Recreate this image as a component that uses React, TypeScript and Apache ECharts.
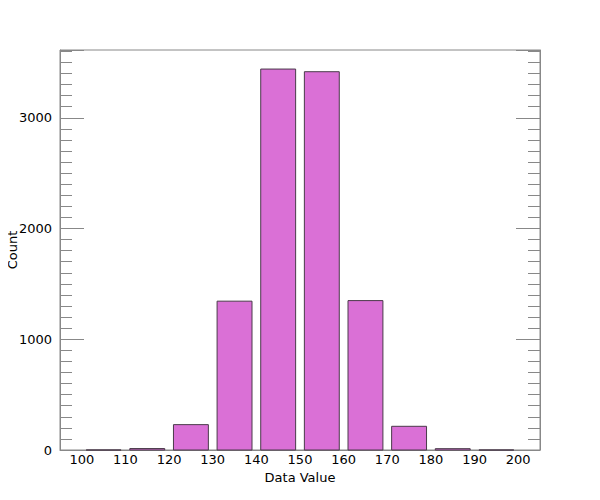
import React, { useEffect, useRef } from "react";
import * as echarts from "echarts";

const binStarts = [100, 110, 120, 130, 140, 150, 160, 170, 180, 190];
const binEnds = [110, 120, 130, 140, 150, 160, 170, 180, 190, 200];
const counts = [0, 13, 229, 1344, 3440, 3416, 1349, 214, 12, 0];

const FONT = "DejaVu Sans";
const AXIS_COLOR = "#888888";

export default function App() {
  const ref = useRef<HTMLDivElement>(null);
  useEffect(() => {
    if (!ref.current) return;
    const chart = echarts.init(ref.current, null, { renderer: "svg" });
    const data = binStarts.map((s, i) => [s, binEnds[i], counts[i]]);
    const yCommon = {
      type: "value",
      min: 0,
      max: 3612,
      interval: 1000,
      splitLine: { show: false },
      axisLine: { show: true, lineStyle: { color: AXIS_COLOR, width: 1 } },
      axisTick: { show: true, inside: true, length: 24, lineStyle: { color: AXIS_COLOR } },
      minorTick: { show: true, splitNumber: 10, length: 12, lineStyle: { color: AXIS_COLOR } },
    };
    chart.setOption({
      animation: false,
      textStyle: { fontFamily: FONT },
      grid: {
        left: 60,
        right: 60,
        top: 50,
        bottom: 50,
        containLabel: false,
        outerBoundsMode: "none",
        show: true,
        borderColor: AXIS_COLOR,
        borderWidth: 1,
        backgroundColor: "transparent",
      },
      xAxis: {
        type: "value",
        min: 95,
        max: 205,
        interval: 5,
        name: "Data Value",
        nameLocation: "middle",
        nameGap: 21,
        nameMoveOverlap: false,
        nameTextStyle: { fontFamily: FONT, fontSize: 13, color: "#000" },
        splitLine: { show: false },
        axisLine: { show: true, lineStyle: { color: AXIS_COLOR } },
        axisTick: { show: false },
        axisLabel: {
          fontFamily: FONT,
          fontSize: 13,
          color: "#000",
          margin: 3,
          formatter: (v: number) => (v % 10 === 0 ? String(v) : ""),
        },
      },
      yAxis: [
        {
          ...yCommon,
          position: "left",
          name: "Count",
          nameLocation: "middle",
          nameGap: 41,
          nameMoveOverlap: false,
          nameTextStyle: { fontFamily: FONT, fontSize: 13, color: "#000" },
          axisLabel: {
            fontFamily: FONT,
            fontSize: 13,
            color: "#000",
            margin: 8,
            formatter: (v: number) => (v % 1000 === 0 ? String(v) : ""),
          },
        },
        {
          ...yCommon,
          position: "right",
          axisLabel: { show: false },
        },
      ],
      series: [
        {
          type: "custom",
          xAxisIndex: 0,
          yAxisIndex: 0,
          data,
          renderItem: (params: any, api: any) => {
            const lo = api.value(0) as number;
            const hi = api.value(1) as number;
            const pad = (hi - lo) * 0.1;
            const p0 = api.coord([lo + pad, 0]);
            const p1 = api.coord([hi - pad, api.value(2)]);
            return {
              type: "rect",
              shape: { x: p0[0], y: p1[1], width: p1[0] - p0[0], height: p0[1] - p1[1] },
              style: { fill: "#DA70D6", stroke: "#4a3a4a", lineWidth: 1 },
            };
          },
        },
      ],
    });
    return () => chart.dispose();
  }, []);
  return <div ref={ref} style={{ width: 600, height: 500, margin: -8 }} />;
}
